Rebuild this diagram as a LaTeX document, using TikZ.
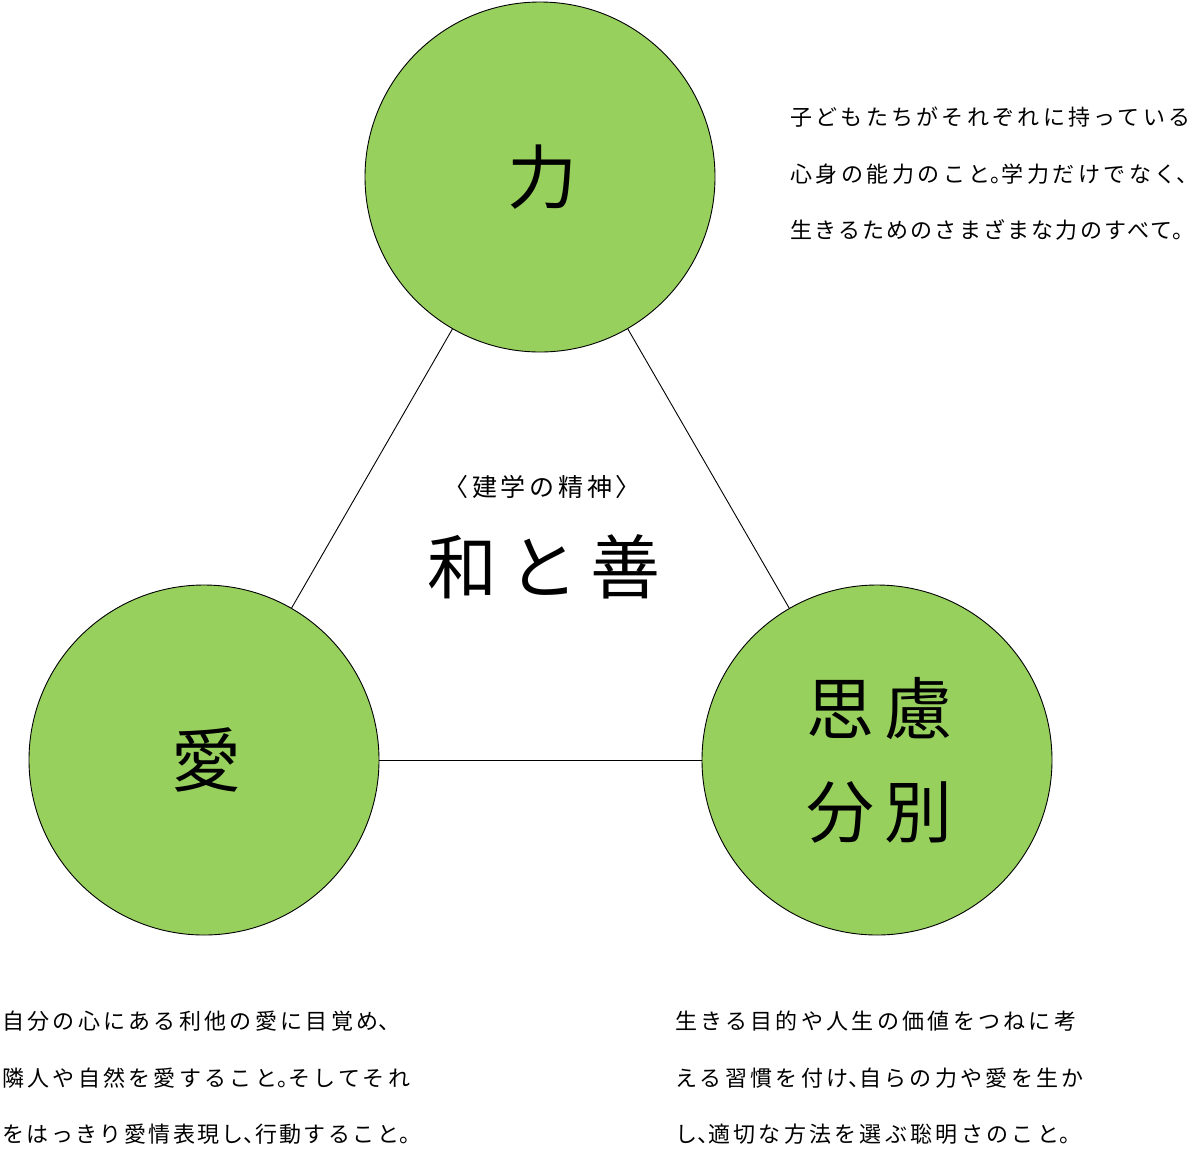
\documentclass[tikz,border=0pt]{standalone}
\usepackage{fontspec}
\newfontfamily\jp{Noto Sans CJK JP}
\newfontfamily\jpsp[LetterSpace=15]{Noto Sans CJK JP}
\newfontfamily\jpbig[LetterSpace=16]{Noto Sans CJK JP}
\definecolor{leaf}{RGB}{152,208,94}
\newcommand{\hw}[1]{\makebox[0.5em][l]{#1}}
\tikzset{
  ball/.style={circle, draw=black, line width=0.9pt, fill=leaf, minimum size=350pt, inner sep=0pt, align=center},
  bigtext/.style={font=\fontsize{70}{103}\jpbig},
  body/.style={anchor=west, inner sep=0pt, font=\fontsize{22}{26}\jpsp},
  link/.style={draw=black, line width=0.9pt}
}
\begin{document}
\begin{tikzpicture}[x=1pt,y=-1pt]
\useasboundingbox (0,0) rectangle (1200,1152);
\node[ball, bigtext] (chikara) at (540,177) {\hspace*{5pt}力};
\node[ball, bigtext] (ai) at (204,760) {\hspace*{5pt}愛};
\node[ball, font=\fontsize{68}{103}\jpbig] (shiryo) at (877,760) {\hspace*{5pt}思慮\\\hspace*{5pt}分別};
\draw[link] (chikara) -- (ai);
\draw[link] (chikara) -- (shiryo);
\draw[link] (ai) -- (shiryo);
\node[inner sep=0pt, font=\fontsize{25}{25}\jpsp] (seishin) at (542,487) {〈建学の精神〉};
\node[inner sep=0pt, bigtext] (wazen) at (544,567) {和と善};
% top right text
\node[body] (r1) at (790,117) {子どもたちがそれぞれに持っている};
\node[body] (r2) at (790,174) {\addfontfeature{LetterSpace=16}心身の能力のこと\hw{。}学力だけでなく\hw{、}};
\node[body] (r3) at (790,230) {\addfontfeature{LetterSpace=10}生きるためのさまざまな力のすべて\hw{。}};
% bottom left text
\node[body] (l1) at (2,1021) {自分の心にある利他の愛に目覚め\hw{、}};
\node[body] (l2) at (2,1078) {隣人や自然を愛すること\hw{。}そしてそれ};
\node[body] (l3) at (2,1134) {\addfontfeature{LetterSpace=11}をはっきり愛情表現し\hw{、}行動すること\hw{。}};
% bottom right text
\node[body] (b1) at (675,1021) {生きる目的や人生の価値をつねに考};
\node[body] (b2) at (675,1078) {える習慣を付け\hw{、}自らの力や愛を生か};
\node[body] (b3) at (675,1134) {し\hw{、}適切な方法を選ぶ聡明さのこと\hw{。}};
\end{tikzpicture}
\end{document}
